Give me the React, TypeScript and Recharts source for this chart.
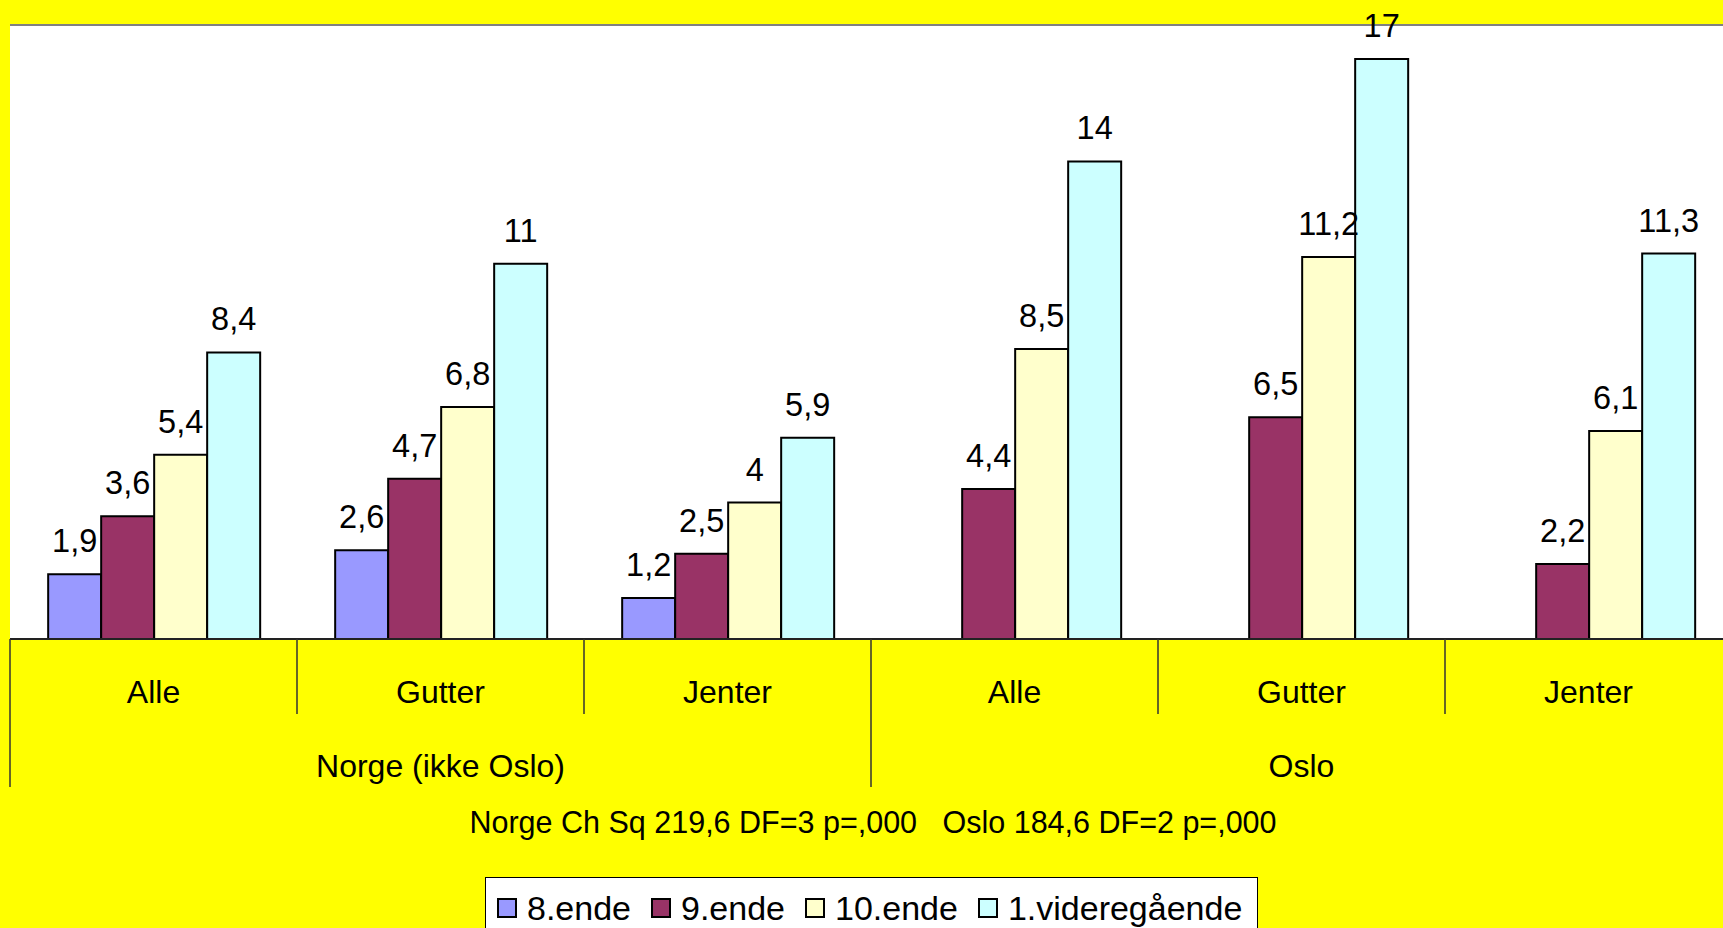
import React from 'react'
import {
  BarChart, Bar, XAxis, YAxis, CartesianGrid, ReferenceLine, LabelList,
} from 'recharts'

const categories = ['Alle', 'Gutter', 'Jenter', 'Alle', 'Gutter', 'Jenter']
const groups = ['Norge (ikke Oslo)', 'Oslo']
const seriesNames = ['8.ende', '9.ende', '10.ende', '1.videregående']
const seriesColors = ['#9999FF', '#993366', '#FFFFCC', '#CCFFFF']

const ende8 = [1.9, 2.6, 1.2, null, null, null]
const ende9 = [3.6, 4.7, 2.5, 4.4, 6.5, 2.2]
const ende10 = [5.4, 6.8, 4, 8.5, 11.2, 6.1]
const vgs1 = [8.4, 11, 5.9, 14, 17, 11.3]

const statText = 'Norge Ch Sq 219,6 DF=3 p=,000   Oslo 184,6 DF=2 p=,000'

const FONT = '"Liberation Sans", Arial, sans-serif'
const W = 1723
const H = 928
const MARGIN = { top: 25, right: -9, left: 10, bottom: 129 }
const BAND = (W - MARGIN.left - MARGIN.right) / categories.length

const series = [ende8, ende9, ende10, vgs1]
const data = categories.map((c, i) => {
  const row: any = { id: i, name: c }
  series.forEach((s, k) => { row['s' + k] = s[i] })
  return row
})

const fmt = (v: any) => (v == null ? '' : String(v).replace('.', ','))

function CatTick(props: any) {
  const { x, y, payload } = props
  const i = payload.value as number
  const groupStart = i % 3 === 0
  const left = x - BAND / 2
  return (
    <g>
      <line x1={left} x2={left} y1={y} y2={y + (groupStart ? 148 : 75)} stroke="#333" strokeWidth={1.5} />
      <text x={x} y={y + 64} textAnchor="middle" fontSize={32} fontFamily={FONT} fill="#000">
        {categories[i]}
      </text>
      {i % 3 === 1 && (
        <text x={x} y={y + 138} textAnchor="middle" fontSize={32} fontFamily={FONT} fill="#000">
          {groups[Math.floor(i / 3)]}
        </text>
      )}
    </g>
  )
}

export default function App() {
  return (
    <div style={{ position: 'absolute', left: 0, top: 0, width: W, height: H, background: '#FFFF00', overflow: 'hidden' }}>
      <BarChart width={W} height={H} data={data} margin={MARGIN} barCategoryGap="13.3%" barGap={0}>
        <CartesianGrid fill="#fff" horizontal={false} vertical={false} />
        <XAxis
          dataKey="id"
          height={160}
          tick={<CatTick />}
          tickLine={false}
          tickSize={0}
          tickMargin={0}
          interval={0}
          axisLine={{ stroke: '#222', strokeWidth: 2 }}
        />
        <YAxis width={0} domain={[0, 18]} tick={false} tickLine={false} axisLine={{ stroke: '#808080', strokeWidth: 2 }} />
        <ReferenceLine y={18} stroke="#808080" strokeWidth={2} />
        {seriesNames.map((n, k) => (
          <Bar key={n} dataKey={'s' + k} name={n} fill={seriesColors[k]} stroke="#000" strokeWidth={2} isAnimationActive={false}>
            <LabelList dataKey={'s' + k} position="top" offset={22} fill="#000" fontSize={32.5} fontFamily={FONT} formatter={fmt} />
          </Bar>
        ))}
      </BarChart>

      <div style={{
        position: 'absolute', left: 873, top: 805, transform: 'translateX(-50%)',
        fontFamily: FONT, fontSize: 30.5, whiteSpace: 'pre', lineHeight: '34px', color: '#000',
      }}>
        {statText}
      </div>

      <div style={{
        position: 'absolute', left: 485, top: 877, width: 773, height: 70, boxSizing: 'border-box',
        background: '#fff', border: '1.5px solid #000', display: 'flex', alignItems: 'flex-start',
        paddingLeft: 11, paddingTop: 10, fontFamily: FONT, fontSize: 34, lineHeight: '40px',
      }}>
        {seriesNames.map((n, k) => (
          <div key={n} style={{ display: 'flex', alignItems: 'center', marginRight: 20 }}>
            <div style={{ width: 20, height: 20, boxSizing: 'border-box', background: seriesColors[k], border: '2px solid #000', marginRight: 10 }} />
            <span>{n}</span>
          </div>
        ))}
      </div>
    </div>
  )
}
